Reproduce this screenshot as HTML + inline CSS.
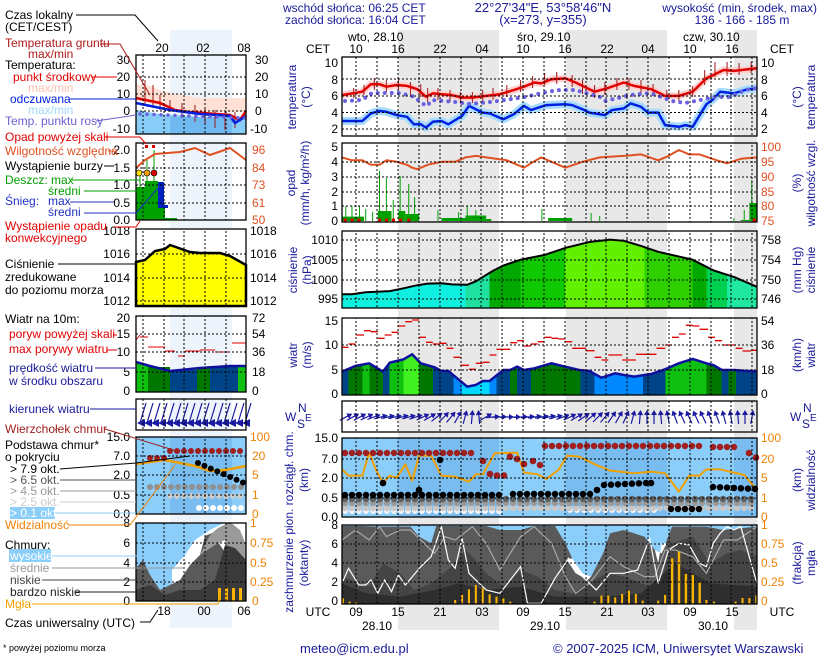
<!DOCTYPE html>
<html><head><meta charset="utf-8"><style>
html,body{margin:0;padding:0;background:#fff}
svg{display:block}
text{font-family:"Liberation Sans",Arial,sans-serif;font-size:12px}
.n{fill:#1a1a9a}
.k{fill:#000}
.o{fill:#f08000}
.rh{fill:#e05020}
.g{stroke:#000;stroke-width:1;stroke-dasharray:2 2;fill:none}
.b{fill:none;stroke:#000;stroke-width:1.3}
.ns{vector-effect:non-scaling-stroke}
</style></head><body>
<svg width="820" height="660" viewBox="0 0 820 660" xmlns="http://www.w3.org/2000/svg">
<defs>
<clipPath id="mainclip">
<rect x="342" y="57" width="415" height="79"/><rect x="342" y="143" width="415" height="79"/>
<rect x="342" y="231" width="415" height="77"/><rect x="342" y="318" width="415" height="77"/>
<rect x="342" y="401" width="415" height="31"/><rect x="342" y="438" width="415" height="79"/>
<rect x="342" y="525" width="415" height="79"/>
</clipPath>
<clipPath id="miniclip">
<rect x="136" y="55" width="110" height="79"/><rect x="136" y="143" width="110" height="77"/>
<rect x="136" y="229" width="110" height="77"/><rect x="136" y="316" width="110" height="76"/>
<rect x="136" y="399" width="110" height="31"/><rect x="136" y="437" width="110" height="77"/>
<rect x="136" y="523" width="110" height="78"/>
</clipPath>
<linearGradient id="pg" x1="0" x2="1" y1="0" y2="0">
<stop offset="0" stop-color="#10f0e0"/><stop offset=".298" stop-color="#10f0e0"/>
<stop offset=".298" stop-color="#20e0a0"/><stop offset=".356" stop-color="#20e0a0"/>
<stop offset=".356" stop-color="#00a800"/><stop offset=".43" stop-color="#00a800"/>
<stop offset=".43" stop-color="#10c800"/><stop offset=".538" stop-color="#10c800"/>
<stop offset=".538" stop-color="#60f000"/><stop offset=".729" stop-color="#60f000"/>
<stop offset=".729" stop-color="#30d000"/><stop offset=".845" stop-color="#30d000"/>
<stop offset=".845" stop-color="#00a800"/><stop offset=".878" stop-color="#00a800"/>
<stop offset=".878" stop-color="#00d050"/><stop offset=".928" stop-color="#00d050"/>
<stop offset=".928" stop-color="#20e8a0"/><stop offset="1" stop-color="#20e8a0"/>
</linearGradient>
<linearGradient id="wg" x1="0" x2="1" y1="0" y2="0">
<stop offset="0" stop-color="#004488"/><stop offset=".016" stop-color="#004488"/>
<stop offset=".016" stop-color="#007800"/><stop offset=".049" stop-color="#007800"/>
<stop offset=".049" stop-color="#10c010"/><stop offset=".066" stop-color="#10c010"/>
<stop offset=".066" stop-color="#007800"/><stop offset=".099" stop-color="#007800"/>
<stop offset=".099" stop-color="#004488"/><stop offset=".115" stop-color="#004488"/>
<stop offset=".115" stop-color="#10c010"/><stop offset=".148" stop-color="#10c010"/>
<stop offset=".148" stop-color="#40f020"/><stop offset=".186" stop-color="#40f020"/>
<stop offset=".186" stop-color="#007800"/><stop offset=".219" stop-color="#007800"/>
<stop offset=".219" stop-color="#004488"/><stop offset=".269" stop-color="#004488"/>
<stop offset=".269" stop-color="#0088ff"/><stop offset=".289" stop-color="#0088ff"/>
<stop offset=".289" stop-color="#00d8ff"/><stop offset=".356" stop-color="#00d8ff"/>
<stop offset=".356" stop-color="#0088ff"/><stop offset=".372" stop-color="#0088ff"/>
<stop offset=".372" stop-color="#004488"/><stop offset=".405" stop-color="#004488"/>
<stop offset=".405" stop-color="#007800"/><stop offset=".422" stop-color="#007800"/>
<stop offset=".422" stop-color="#004488"/><stop offset=".455" stop-color="#004488"/>
<stop offset=".455" stop-color="#007800"/><stop offset=".575" stop-color="#007800"/>
<stop offset=".575" stop-color="#004488"/><stop offset=".609" stop-color="#004488"/>
<stop offset=".609" stop-color="#0088ff"/><stop offset=".725" stop-color="#0088ff"/>
<stop offset=".725" stop-color="#004488"/><stop offset=".779" stop-color="#004488"/>
<stop offset=".779" stop-color="#10c010"/><stop offset=".878" stop-color="#10c010"/>
<stop offset=".878" stop-color="#007800"/><stop offset=".915" stop-color="#007800"/>
<stop offset=".915" stop-color="#004488"/><stop offset=".932" stop-color="#004488"/>
<stop offset=".932" stop-color="#007800"/><stop offset=".949" stop-color="#007800"/>
<stop offset=".949" stop-color="#004488"/><stop offset="1" stop-color="#004488"/>
</linearGradient>
<g id="ar"><path d="M-7 0H3" stroke="#1a1aa0" stroke-width="1.2"/><path d="M2-3L7 0 2 3Z" fill="#1a1aa0"/></g>
<g id="ar2"><path d="M4 -12L-2 8" stroke="#1a1aa0" stroke-width="1.2"/><path d="M3 4L-5 8 3 12Z" fill="#1a1aa0"/></g>
</defs>

<rect width="820" height="660" fill="#fff"/>
<g fill="#e8e8e8">
<rect x="398" y="30" width="101" height="600"/><rect x="566" y="30" width="101" height="600"/><rect x="734" y="30" width="23" height="600"/>
</g>
<rect x="170" y="30" width="62" height="598" fill="#eef4fc"/>

<!-- HEADER -->
<text x="283" y="12" class="n">wschód słońca: 06:25 CET</text>
<text x="285" y="24" class="n">zachód słońca: 16:04 CET</text>
<text x="543" y="12" class="n" text-anchor="middle" style="font-size:13px">22°27'34"E, 53°58'46"N</text>
<text x="543" y="24" class="n" text-anchor="middle" style="font-size:13px">(x=273,  y=355)</text>
<text x="817" y="12" class="n" text-anchor="end">wysokość (min, środek, max)</text>
<text x="742" y="24" class="n" text-anchor="middle">136 - 166 - 185 m</text>
<text x="348" y="41" class="k">wto, 28.10</text>
<text x="517" y="41" class="k">śro, 29.10</text>
<text x="683" y="41" class="k">czw, 30.10</text>
<g class="k" text-anchor="middle">
<text x="318" y="53">CET</text><text x="356" y="53">10</text><text x="398" y="53">16</text><text x="440" y="53">22</text><text x="482" y="53">04</text><text x="523" y="53">10</text><text x="565" y="53">16</text><text x="607" y="53">22</text><text x="648" y="53">04</text><text x="690" y="53">10</text><text x="732" y="53">16</text><text x="782" y="53">CET</text>
</g>

<!-- MAIN PANELS -->
<g fill="#fff">
<rect x="342" y="57" width="415" height="79"/><rect x="342" y="143" width="415" height="79"/>
<rect x="342" y="231" width="415" height="77"/><rect x="342" y="318" width="415" height="77"/>
<rect x="342" y="401" width="415" height="31"/>
</g>
<g fill="#e8e8e8">
<rect x="398" y="57" width="101" height="79"/><rect x="566" y="57" width="101" height="79"/><rect x="734" y="57" width="23" height="79"/>
<rect x="398" y="143" width="101" height="79"/><rect x="566" y="143" width="101" height="79"/><rect x="734" y="143" width="23" height="79"/>
<rect x="398" y="231" width="101" height="77"/><rect x="566" y="231" width="101" height="77"/><rect x="734" y="231" width="23" height="77"/>
<rect x="398" y="318" width="101" height="77"/><rect x="566" y="318" width="101" height="77"/><rect x="734" y="318" width="23" height="77"/>
<rect x="398" y="401" width="101" height="31"/><rect x="566" y="401" width="101" height="31"/><rect x="734" y="401" width="23" height="31"/>
</g>
<rect x="342" y="438" width="415" height="79" fill="#8ccefa"/>
<g fill="#78bcf0"><rect x="398" y="438" width="101" height="79"/><rect x="566" y="438" width="101" height="79"/><rect x="734" y="438" width="23" height="79"/></g>
<rect x="342" y="525" width="415" height="79" fill="#8ccefa"/>

<!-- TEMPERATURE -->
<g transform="translate(279.7,0) scale(0.3441,1)" fill="none" stroke-linejoin="round">
<polyline class="ns" stroke="#ffd0d0" stroke-width="7" points="181,95.1 240,91.7 265,84.2 290,84.2 310,86.7 340,85 370,85.9 400,89.2 425,96.7 445,93.4 500,95.1 530,97.6 560,97.6 600,95.9 640,94.2 680,90.1 710,86.7 740,82.5 760,83.4 790,79.2 830,78.4 860,82.5 880,85.9 915,91.7 950,88.4 1000,82.5 1030,85.9 1080,89.2 1120,95.9 1160,95.9 1200,91.7 1240,78.4 1290,70 1320,70.9 1387,68.3"/>
<polyline class="ns" stroke="#a8dcff" stroke-width="8" points="181,121 240,121 265,113.4 290,110.9 310,111.8 340,115.1 370,116.8 390,124.3 410,124.3 425,127.6 445,121.8 470,121 490,124.3 530,115.9 550,105.9 590,112.6 610,113.4 650,119.3 680,114.3 710,105.9 730,110.1 775,105.1 830,104.3 850,105.1 880,109.3 900,112.6 945,115.1 965,110.1 1000,108.4 1020,103.4 1050,106.8 1070,112.6 1100,112.6 1120,125.1 1160,126.8 1180,125.1 1200,126.8 1240,104.3 1260,99.2 1280,91.7 1320,93.4 1360,89.2 1387,88.4"/>
<path class="ns" stroke="#a01818" stroke-width="1" d="M215 88V98M245 85V95M275 78V90M310 80V92M345 78V90M380 82V95M410 84V97M430 88V102M460 88V100M495 90V102M525 92V103M560 92V103M590 90V101M620 88V100M660 85V97M700 80V92M735 76V88M770 73V85M805 72V84M850 75V87M880 80V94M915 85V98M945 82V95M980 78V90M1015 78V90M1050 80V93M1085 84V96M1125 90V101M1160 90V101M1200 86V97M1235 70V85M1265 62V77M1300 62V76M1335 63V75M1370 62V73"/>
<polyline class="ns" stroke="#e00000" stroke-width="2.5" points="181,95.1 240,91.7 265,84.2 290,84.2 310,86.7 340,85 370,85.9 400,89.2 425,96.7 445,93.4 500,95.1 530,97.6 560,97.6 600,95.9 640,94.2 680,90.1 710,86.7 740,82.5 760,83.4 790,79.2 830,78.4 860,82.5 880,85.9 915,91.7 950,88.4 1000,82.5 1030,85.9 1080,89.2 1120,95.9 1160,95.9 1200,91.7 1240,78.4 1290,70 1320,70.9 1387,68.3"/>
<polyline class="ns" stroke="#0020e0" stroke-width="2.5" points="181,121 240,121 265,113.4 290,110.9 310,111.8 340,115.1 370,116.8 390,124.3 410,124.3 425,127.6 445,121.8 470,121 490,124.3 530,115.9 550,105.9 590,112.6 610,113.4 650,119.3 680,114.3 710,105.9 730,110.1 775,105.1 830,104.3 850,105.1 880,109.3 900,112.6 945,115.1 965,110.1 1000,108.4 1020,103.4 1050,106.8 1070,112.6 1100,112.6 1120,125.1 1160,126.8 1180,125.1 1200,126.8 1240,104.3 1260,99.2 1280,91.7 1320,93.4 1360,89.2 1387,88.4"/>
</g>
<polyline fill="none" stroke="#6a60e0" stroke-width="4" stroke-linecap="round" stroke-dasharray="0 7" points="345,101 362,100 372,93 400,93 415,97 420,102 427,106 432,100 455,102 470,104 490,102 505,100 525,97 546,92 560,90 575,90 586,93 600,97 605,101 618,98 630,95 650,93 672,101 685,103 700,100 715,97 730,97 745,90 757,88"/>

<!-- PRECIP -->
<g transform="translate(279.7,0) scale(0.3441,1)">
<g fill="#00a000">
<rect x="181" y="216.6" width="64" height="4.4"/><rect x="285" y="211" width="40" height="10"/><rect x="345" y="211" width="20" height="10"/><rect x="365" y="214" width="40" height="7"/><rect x="470" y="218" width="70" height="3"/><rect x="540" y="215.5" width="60" height="5.5"/><rect x="600" y="219" width="15" height="2"/><rect x="780" y="218" width="70" height="3"/><rect x="1340" y="220" width="25" height="1"/><rect x="1365" y="203" width="22" height="18"/>
</g>
<path class="ns" stroke="#00a000" stroke-width="1" fill="none" d="M192 221V206M210 221V206M232 221V206M250 221V209M270 221V212M290 221V171M310 221V178M330 221V200M350 221V176M375 221V184M392 221V197M545 221V206M460 221V210M520 221V212M570 221V210M762 221V209M1372 221V180M1350 221V210M905 221V213M930 221V216M1320 221V218"/>
<g fill="#e00000"><rect x="186" y="218.5" width="9" height="3"/><rect x="206" y="218.5" width="9" height="3"/><rect x="226" y="218.5" width="9" height="3"/><rect x="286" y="218.5" width="9" height="3"/><rect x="306" y="218.5" width="9" height="3"/><rect x="326" y="218.5" width="9" height="3"/><rect x="346" y="218.5" width="9" height="3"/><rect x="371" y="218.5" width="9" height="3"/><rect x="1375" y="218.5" width="9" height="3"/></g>
<polyline class="ns" fill="none" stroke="#e05020" stroke-width="2" stroke-linejoin="round" points="181,157.4 210,160.3 240,160.3 265,164.8 290,164.8 310,160.3 340,161.8 370,164.8 385,167.7 400,169.2 430,164.8 470,161.8 510,161.8 540,157.4 570,155.9 600,157.4 660,160.3 710,167.7 730,163.3 760,157.4 790,161.8 830,167.7 880,161.8 930,157.4 1000,155.9 1050,154.4 1100,160.3 1130,155.9 1160,150 1190,154.4 1220,154.4 1270,160.3 1300,163.3 1340,158.8 1387,157.4"/>
</g>

<!-- PRESSURE -->
<g transform="translate(279.7,0) scale(0.3441,1)">
<polygon fill="url(#pg)" points="181,294.2 210,294.2 250,292.3 320,291.1 360,288.3 400,285.2 430,283.6 470,283.2 500,284.4 545,284.8 570,281.3 620,270.7 650,265.5 700,259.7 770,254.9 830,247.9 900,242 960,239.6 1000,240.8 1050,245.9 1100,251.8 1200,259.7 1260,270.3 1320,276.9 1387,286.8 1387,308 181,308"/>
<polyline class="ns" fill="none" stroke="#000" stroke-width="2" points="181,294.2 210,294.2 250,292.3 320,291.1 360,288.3 400,285.2 430,283.6 470,283.2 500,284.4 545,284.8 570,281.3 620,270.7 650,265.5 700,259.7 770,254.9 830,247.9 900,242 960,239.6 1000,240.8 1050,245.9 1100,251.8 1200,259.7 1260,270.3 1320,276.9 1387,286.8"/>
</g>

<!-- WIND -->
<g transform="translate(279.7,310) scale(0.3441,0.3333)">
<polygon fill="url(#wg)" points="181,185 220,168 260,160 300,185 320,158 360,148 385,133 410,160 450,172 470,183 490,183 545,230 570,225 590,213 610,213 650,180 670,180 690,170 710,180 740,175 790,160 830,170 870,180 900,183 935,203 975,190 1000,195 1030,200 1060,195 1080,192 1120,178 1160,160 1200,147 1240,160 1260,165 1285,180 1320,180 1387,185 1387,255 181,255"/>
<polyline class="ns" fill="none" stroke="#1010a0" stroke-width="2.5" points="181,185 220,168 260,160 300,185 320,158 360,148 385,133 410,160 450,172 470,183 490,183 545,230 570,225 590,213 610,213 650,180 670,180 690,170 710,180 740,175 790,160 830,170 870,180 900,183 935,203 975,190 1000,195 1030,200 1060,195 1080,192 1120,178 1160,160 1200,147 1240,160 1260,165 1285,180 1320,180 1387,185"/>
<path class="ns" stroke="#e00000" stroke-width="1.3" fill="none" d="M181 112H200M200 102H220M222 75H245M245 62H265M265 65H285M285 85H305M305 75H325M325 67H345M345 48H365M365 35H385M385 30H405M405 82H425M425 97H445M445 102H465M465 100H485M485 115H505M505 142H525M525 166H550M550 178H570M570 160H590M590 157H610M610 135H630M630 118H670M670 98H690M690 92H710M710 108H730M730 102H750M750 95H770M770 82H790M790 85H810M810 87H830M830 95H850M850 115H890M890 122H915M915 142H935M935 150H955M955 135H995M995 150H1035M1035 133H1095M1095 115H1120M1120 105H1140M1140 82H1160M1160 72H1180M1180 46H1200M1200 48H1220M1220 58H1245M1245 82H1265M1265 92H1285M1285 105H1325M1325 115H1345M1345 123H1370M1370 121H1387"/>
</g>

<!-- DIRECTION ARROWS -->
<g>
<use href="#ar" transform="translate(346,417) rotate(-28)"/><use href="#ar" transform="translate(353,417) rotate(-28)"/><use href="#ar" transform="translate(360,417) rotate(-28)"/><use href="#ar" transform="translate(367,417) rotate(-25)"/><use href="#ar" transform="translate(374,417) rotate(-20)"/><use href="#ar" transform="translate(381,417) rotate(-15)"/>
<use href="#ar" transform="translate(388,417) rotate(-12)"/><use href="#ar" transform="translate(395,417) rotate(-12)"/><use href="#ar" transform="translate(402,417) rotate(-15)"/><use href="#ar" transform="translate(409,417) rotate(-15)"/><use href="#ar" transform="translate(416,417) rotate(-18)"/>
<use href="#ar" transform="translate(423,417) rotate(-25)"/><use href="#ar" transform="translate(430,417) rotate(-30)"/><use href="#ar" transform="translate(437,417) rotate(-38)"/><use href="#ar" transform="translate(444,417) rotate(-45)"/><use href="#ar" transform="translate(451,417) rotate(-50)"/><use href="#ar" transform="translate(458,417) rotate(-60)"/><use href="#ar" transform="translate(465,417) rotate(-75)"/><use href="#ar" transform="translate(472,417) rotate(-85)"/><use href="#ar" transform="translate(479,417) rotate(-95)"/><use href="#ar" transform="translate(486,417) rotate(-30)"/>
<use href="#ar" transform="translate(493,417) rotate(-5)"/><use href="#ar" transform="translate(500,417) rotate(-3)"/><use href="#ar" transform="translate(507,417) rotate(0)"/><use href="#ar" transform="translate(514,417) rotate(0)"/><use href="#ar" transform="translate(521,417) rotate(-3)"/><use href="#ar" transform="translate(528,417) rotate(-5)"/><use href="#ar" transform="translate(535,417) rotate(-8)"/><use href="#ar" transform="translate(542,417) rotate(-10)"/><use href="#ar" transform="translate(549,417) rotate(-12)"/><use href="#ar" transform="translate(556,417) rotate(-15)"/>
<use href="#ar" transform="translate(563,417) rotate(-20)"/><use href="#ar" transform="translate(570,417) rotate(-25)"/><use href="#ar" transform="translate(577,417) rotate(-30)"/><use href="#ar" transform="translate(584,417) rotate(-35)"/><use href="#ar" transform="translate(591,417) rotate(-40)"/><use href="#ar" transform="translate(598,417) rotate(-45)"/><use href="#ar" transform="translate(605,417) rotate(-50)"/><use href="#ar" transform="translate(612,417) rotate(-55)"/><use href="#ar" transform="translate(619,417) rotate(-60)"/><use href="#ar" transform="translate(626,417) rotate(-65)"/>
<use href="#ar" transform="translate(633,417) rotate(-75)"/><use href="#ar" transform="translate(640,417) rotate(-85)"/><use href="#ar" transform="translate(647,417) rotate(-90)"/><use href="#ar" transform="translate(654,417) rotate(-90)"/><use href="#ar" transform="translate(661,417) rotate(-95)"/><use href="#ar" transform="translate(668,417) rotate(-100)"/>
<use href="#ar" transform="translate(675,417) rotate(-110)"/><use href="#ar" transform="translate(682,417) rotate(-115)"/><use href="#ar" transform="translate(689,417) rotate(-115)"/><use href="#ar" transform="translate(696,417) rotate(-115)"/><use href="#ar" transform="translate(703,417) rotate(-115)"/><use href="#ar" transform="translate(710,417) rotate(-110)"/><use href="#ar" transform="translate(717,417) rotate(-110)"/><use href="#ar" transform="translate(724,417) rotate(-105)"/><use href="#ar" transform="translate(731,417) rotate(-100)"/><use href="#ar" transform="translate(738,417) rotate(-95)"/><use href="#ar" transform="translate(745,417) rotate(-90)"/><use href="#ar" transform="translate(752,417) rotate(-80)"/>
</g>

<!-- CLOUD BASE panel -->
<g transform="translate(279.7,310) scale(0.3441,0.3333)">
<polyline class="ns" fill="none" stroke="#f0a000" stroke-width="2" stroke-linejoin="round" points="181,478 200,497 240,497 260,428 280,480 300,518 320,497 340,503 365,463 385,512 405,437 440,437 470,497 510,500 550,515 570,493 590,493 625,430 690,428 710,488 750,493 775,507 810,480 835,437 870,440 920,465 960,482 990,485 1030,490 1080,485 1120,490 1160,545 1190,497 1220,497 1240,478 1280,478 1320,488 1350,495 1387,540"/>
</g>
<g fill="none" stroke-linecap="round" stroke-dasharray="0 7">
<polyline stroke="#f4f4f4" stroke-width="6" points="345,511 500,511"/>
<polyline stroke="#f4f4f4" stroke-width="6" points="570,510 655,510"/>
<polyline stroke="#c8c8c8" stroke-width="6.5" points="345,508 757,508"/>
<polyline stroke="#9a9a9a" stroke-width="6.5" points="345,503 757,503"/>
<polyline stroke="#606060" stroke-width="6.5" points="345,499 757,499"/>
<polyline stroke="#000" stroke-width="6.5" points="345,495 506,495"/>
<polyline stroke="#000" stroke-width="6.5" points="513,494 597,494"/>
<polyline stroke="#000" stroke-width="6.5" points="604,485 646,483"/>
<polyline stroke="#000" stroke-width="6.5" points="671,509 706,509"/>
<polyline stroke="#000" stroke-width="6.5" points="713,487 757,489"/>
<polyline stroke="#a02020" stroke-width="6.5" points="345,453 472,453"/>
<polyline stroke="#a02020" stroke-width="6.5" points="545,446 706,446"/>
<polyline stroke="#a02020" stroke-width="6.5" points="713,447 741,447"/>
</g>
<g fill="#a02020"><circle cx="483" cy="461" r="3.3"/><circle cx="490" cy="474" r="3.3"/><circle cx="497" cy="475.5" r="3.3"/><circle cx="504" cy="475.5" r="3.3"/><circle cx="510" cy="456.7" r="3.3"/><circle cx="517" cy="459" r="3.3"/><circle cx="524" cy="464" r="3.3"/><circle cx="533" cy="461" r="3.3"/><circle cx="540" cy="465" r="3.3"/><circle cx="749" cy="453" r="3.3"/><circle cx="756" cy="457.5" r="3.3"/></g>
<g fill="#000"><circle cx="383" cy="483" r="3.3"/><circle cx="419" cy="490" r="3.3"/><circle cx="440" cy="460" r="3.3"/><circle cx="597" cy="490" r="3.3"/><circle cx="651" cy="483" r="3.3"/></g>

<!-- CLOUD COVER -->
<g transform="translate(279.7,310) scale(0.3441,0.3333)">
<polygon fill="#5a5a5a" points="181,648 240,648 290,650 380,650 405,680 440,700 455,648 600,648 640,660 700,660 740,648 800,648 830,700 850,745 880,790 905,800 940,730 960,670 1000,660 1060,680 1090,720 1110,730 1140,650 1240,650 1290,660 1387,650 1387,882 181,882"/>
<polygon fill="#fff" points="850,745 880,790 905,800 895,810 860,790 835,750"/>
<polygon fill="#fff" points="1090,720 1110,730 1125,700 1110,700 1100,760"/>
<polygon fill="#444" points="181,800 260,830 300,760 350,790 390,840 440,820 500,770 540,720 560,740 600,790 650,830 700,780 750,800 800,840 850,850 900,820 950,790 1000,800 1050,820 1100,840 1140,700 1200,680 1250,760 1300,730 1340,720 1387,740 1387,882 181,882"/>
<polygon fill="#2e2e2e" points="181,820 250,850 350,860 450,840 520,820 600,840 700,830 800,860 950,860 1050,850 1150,760 1250,820 1387,830 1387,882 181,882"/>
<polyline class="ns" fill="none" stroke="#a8a8a8" stroke-width="1.2" points="181,690 220,660 260,690 290,650 310,680 350,660 380,660 420,700 450,730 480,680 510,690 560,650 600,700 640,780 700,680 740,650 790,700 830,800 860,850 900,820 960,740 1000,770 1060,800 1090,800 1120,720 1150,720 1200,740 1240,790 1290,690 1330,690 1387,650"/>
<polyline class="ns" fill="none" stroke="#fff" stroke-width="1.2" points="181,820 200,775 230,825 250,825 265,810 285,850 305,810 325,845 345,795 365,825 410,770 440,740 470,650 490,750 510,775 530,685 550,790 580,820 600,840 640,850 700,770 720,880 760,880 800,805 840,745 880,800 920,840 960,790 1000,790 1040,780 1075,685 1100,820 1130,720 1160,700 1190,705 1220,760 1240,770 1260,700 1280,670 1300,650 1320,660 1340,650 1370,760 1387,820"/>
<g fill="#f8b400"><rect x="181" y="865" width="6" height="17"/><rect x="200" y="875" width="6" height="7"/><rect x="219" y="875" width="6" height="7"/><rect x="507" y="870" width="6" height="12"/><rect x="527" y="855" width="6" height="27"/><rect x="547" y="838" width="6" height="44"/><rect x="567" y="825" width="6" height="57"/><rect x="587" y="835" width="6" height="47"/><rect x="607" y="853" width="6" height="29"/><rect x="627" y="860" width="6" height="22"/><rect x="647" y="865" width="6" height="17"/><rect x="667" y="875" width="6" height="7"/><rect x="912" y="875" width="6" height="7"/><rect x="932" y="857" width="6" height="25"/><rect x="952" y="857" width="6" height="25"/><rect x="972" y="862" width="6" height="20"/><rect x="992" y="852" width="6" height="30"/><rect x="1012" y="842" width="6" height="40"/><rect x="1032" y="852" width="6" height="30"/><rect x="1052" y="872" width="6" height="10"/><rect x="1097" y="872" width="6" height="10"/><rect x="1117" y="855" width="6" height="27"/><rect x="1137" y="745" width="7" height="137"/><rect x="1157" y="725" width="7" height="157"/><rect x="1177" y="792" width="7" height="90"/><rect x="1197" y="795" width="7" height="87"/><rect x="1217" y="818" width="7" height="64"/><rect x="1237" y="870" width="6" height="12"/><rect x="1259" y="875" width="6" height="7"/><rect x="1322" y="875" width="6" height="7"/><rect x="1342" y="864" width="6" height="18"/><rect x="1362" y="864" width="6" height="18"/><rect x="1382" y="856" width="5" height="26"/></g>
</g>

<!-- main grid -->
<g clip-path="url(#mainclip)">
<path class="g" d="M356 57V604M377 57V604M398 57V604M419 57V604M440 57V604M461 57V604M481 57V604M502 57V604M523 57V604M544 57V604M565 57V604M586 57V604M606 57V604M627 57V604M648 57V604M669 57V604M690 57V604M711 57V604M731 57V604M752 57V604"/>
<path class="g" d="M342 79H757M342 96H757M342 112.5H757M342 129H757M342 162H757M342 177H757M342 192H757M342 206H757M342 240H757M342 260H757M342 280H757M342 299H757M342 345H757M342 370H757M342 459H757M342 478H757M342 498H757M342 544H757M342 563H757M342 582H757"/>
</g>
<g class="b">
<rect x="342" y="57" width="415" height="79"/><rect x="342" y="143" width="415" height="79"/>
<rect x="342" y="231" width="415" height="77"/><rect x="342" y="318" width="415" height="77"/>
<rect x="342" y="401" width="415" height="31"/><rect x="342" y="438" width="415" height="79"/>
<rect x="342" y="525" width="415" height="79"/>
</g>

<g class="k" text-anchor="end">
<text x="338" y="67">10</text><text x="338" y="84">8</text><text x="338" y="100">6</text><text x="338" y="117">4</text><text x="338" y="133">2</text>
<text x="338" y="151">5</text><text x="338" y="166">4</text><text x="338" y="181">3</text><text x="338" y="196">2</text><text x="338" y="210">1</text><text x="338" y="225">0</text>
<text x="338" y="244">1010</text><text x="338" y="264">1005</text><text x="338" y="284">1000</text><text x="338" y="303">995</text>
<text x="338" y="325">15</text><text x="338" y="349">10</text><text x="338" y="374">5</text><text x="338" y="398">0</text>
<text x="338" y="442">15.0</text><text x="338" y="463">7.0</text><text x="338" y="482">2.0</text><text x="338" y="502">0.5</text><text x="338" y="521">0.0</text>
<text x="338" y="529">8</text><text x="338" y="548">6</text><text x="338" y="567">4</text><text x="338" y="586">2</text><text x="338" y="605">0</text>
</g>
<g class="k">
<text x="761" y="67">10</text><text x="761" y="84">8</text><text x="761" y="100">6</text><text x="761" y="117">4</text><text x="761" y="133">2</text>
<text x="761" y="244">758</text><text x="761" y="264">754</text><text x="761" y="284">750</text><text x="761" y="303">746</text>
<text x="761" y="325">54</text><text x="761" y="349">36</text><text x="761" y="374">18</text><text x="761" y="398">0</text>
</g>
<g class="rh"><text x="761" y="151">100</text><text x="761" y="166">95</text><text x="761" y="181">90</text><text x="761" y="196">85</text><text x="761" y="210">80</text><text x="761" y="225">75</text></g>
<g class="o"><text x="761" y="442">100</text><text x="761" y="463">20</text><text x="761" y="482">5</text><text x="761" y="502">1</text><text x="761" y="521">0</text>
<text x="761" y="529">1</text><text x="761" y="548">0.75</text><text x="761" y="567">0.5</text><text x="761" y="586">0.25</text><text x="761" y="605">0</text></g>

<g class="n" text-anchor="middle">
<text transform="translate(296,97) rotate(-90)">temperatura</text><text transform="translate(310,97) rotate(-90)">(°C)</text>
<text transform="translate(295,183) rotate(-90)">opad</text><text transform="translate(309,183) rotate(-90)">(mm/h, kg/m²/h)</text>
<text transform="translate(297,270) rotate(-90)">ciśnienie</text><text transform="translate(311,270) rotate(-90)">(hPa)</text>
<text transform="translate(297,355) rotate(-90)">wiatr</text><text transform="translate(311,355) rotate(-90)">(m/s)</text>
<text transform="translate(293,522) rotate(-90)">zachmurzenie  pion. rozciągł. chm.</text>
<text transform="translate(308,480) rotate(-90)">(km)</text><text transform="translate(308,563) rotate(-90)">(oktanty)</text>
<text transform="translate(801,97) rotate(-90)">(°C)</text><text transform="translate(815,97) rotate(-90)">temperatura</text>
<text transform="translate(801,183) rotate(-90)">(%)</text><text transform="translate(815,183) rotate(-90)">wilgotność wzgl.</text>
<text transform="translate(801,270) rotate(-90)">(mm Hg)</text><text transform="translate(815,270) rotate(-90)">ciśnienie</text>
<text transform="translate(801,355) rotate(-90)">(km/h)</text><text transform="translate(815,355) rotate(-90)">wiatr</text>
<text transform="translate(801,480) rotate(-90)">(km)</text><text transform="translate(815,480) rotate(-90)">widzialność</text>
<text transform="translate(801,563) rotate(-90)">(frakcja)</text><text transform="translate(815,563) rotate(-90)">mgła</text>
</g>
<g class="n" style="font-size:11px">
<text x="285" y="421">W</text><text x="298" y="412">N</text><text x="297" y="428">S</text><text x="305" y="421" style="font-size:10px">E</text>
<text x="790" y="421">W</text><text x="803" y="412">N</text><text x="802" y="428">S</text><text x="810" y="421" style="font-size:10px">E</text>
</g>

<g class="k" text-anchor="middle">
<text x="318" y="616">UTC</text><text x="356" y="616">09</text><text x="398" y="616">15</text><text x="440" y="616">21</text><text x="482" y="616">03</text><text x="523" y="616">09</text><text x="565" y="616">15</text><text x="607" y="616">21</text><text x="648" y="616">03</text><text x="690" y="616">09</text><text x="732" y="616">15</text><text x="782" y="616">UTC</text>
<text x="377" y="630">28.10</text><text x="545" y="630">29.10</text><text x="713" y="630">30.10</text>
</g>
<text x="300" y="653" class="n" style="font-size:13px">meteo@icm.edu.pl</text>
<text x="553" y="653" class="n" style="font-size:13px">© 2007-2025 ICM, Uniwersytet Warszawski</text>

<!-- LEFT MINI LEGEND -->
<g fill="#fff">
<rect x="136" y="55" width="110" height="79"/><rect x="136" y="143" width="110" height="77"/>
<rect x="136" y="316" width="110" height="76"/><rect x="136" y="399" width="110" height="31"/>
</g>
<g fill="#eef4fc"><rect x="170" y="55" width="62" height="79"/><rect x="170" y="143" width="62" height="77"/><rect x="170" y="316" width="62" height="76"/><rect x="170" y="399" width="62" height="31"/></g>
<rect x="136" y="229" width="110" height="77" fill="#fff"/>
<polygon fill="#ffff00" stroke="#000" stroke-width="2.5" points="136,262 145,260 155,251 165,249 170,245 190,252 200,253 220,253 230,256 246,265 246,306 136,306"/>
<polygon fill="#ffe0d4" points="136,84 150,86 165,92 200,98 246,98 246,112 200,112 160,106 136,100"/>
<polygon fill="#88ccf8" points="136,110 160,114 200,117 246,117 246,134 136,134"/>
<polygon fill="#70b8f0" points="170,117 200,117 232,117 232,134 170,134"/>
<path stroke="#a01818" fill="none" d="M145 80V105M153 85V108M160 95V110M170 100V112M182 103V118M195 105V122M205 108V125M215 110V128M225 112V130M235 112V128"/>
<polyline fill="none" stroke="#e00000" stroke-width="2.5" points="136,98 160,103 175,110 190,112 230,115 240,120 246,111"/>
<polyline fill="none" stroke="#0020e0" stroke-width="2.5" points="136,103 170,110 200,114 230,116 235,123 246,116"/>
<polyline fill="none" stroke="#6a60e0" stroke-width="3.5" stroke-linecap="round" stroke-dasharray="0 7" points="140,114 246,118"/>
<g fill="#00a000"><rect x="136" y="187" width="9" height="33"/><rect x="145" y="181" width="13" height="39"/><rect x="158" y="208" width="7" height="12"/><rect x="165" y="218" width="12" height="2"/></g>
<rect x="158" y="182" width="6" height="26" fill="#0020c0"/><rect x="164" y="205" width="4" height="3" fill="#0020c0"/>
<path stroke="#00a000" fill="none" d="M140 187V175M147 181V160M154 181V150"/>
<circle cx="139" cy="173" r="3" fill="#ffe000" stroke="#000" stroke-width=".6"/><circle cx="147" cy="173" r="3" fill="#f0a000" stroke="#000" stroke-width=".6"/><circle cx="154" cy="173" r="3" fill="#e00000" stroke="#000" stroke-width=".6"/>
<rect x="145" y="145" width="3" height="3" fill="#e00000"/><rect x="152" y="145" width="3" height="3" fill="#e00000"/>
<polyline fill="none" stroke="#e05020" stroke-width="2" points="136,168 145,160 155,154 180,152 195,148 210,155 230,148 246,160"/>
<polygon fill="#10c010" points="136,362 150,366 170,371 200,368 230,366 246,366 246,392 136,392"/>
<rect x="148" y="367" width="22" height="25" fill="#007800"/><rect x="170" y="370" width="27" height="22" fill="#004488"/><rect x="197" y="368" width="13" height="24" fill="#007800"/><rect x="210" y="367" width="28" height="25" fill="#004488"/>
<polyline fill="none" stroke="#1010a0" stroke-width="2.5" points="136,362 150,366 170,371 200,368 230,366 246,366"/>
<path stroke="#e00000" fill="none" d="M136 340L140 335M140 337H148M148 347H165M165 351H175M178 356H185M185 351H200M200 350H215M215 352H230M232 343H246"/>
<g>
<use href="#ar2" transform="translate(142,415)"/><use href="#ar2" transform="translate(149,415)"/><use href="#ar2" transform="translate(156,415)"/><use href="#ar2" transform="translate(163,415)"/><use href="#ar2" transform="translate(170,415)"/><use href="#ar2" transform="translate(177,415)"/><use href="#ar2" transform="translate(184,415)"/><use href="#ar2" transform="translate(191,415)"/><use href="#ar2" transform="translate(198,415)"/><use href="#ar2" transform="translate(205,415)"/><use href="#ar2" transform="translate(212,415)"/><use href="#ar2" transform="translate(219,415)"/><use href="#ar2" transform="translate(226,415)"/><use href="#ar2" transform="translate(233,415)"/><use href="#ar2" transform="translate(240,415)"/><use href="#ar2" transform="translate(247,415)"/>
</g>
<rect x="136" y="437" width="110" height="77" fill="#8ccefa"/><rect x="170" y="437" width="62" height="77" fill="#78bcf0"/>
<polyline fill="none" stroke="#f0a000" stroke-width="2.5" points="136,464 150,462 165,460 180,463 195,466 210,471 225,470 246,466"/>
<g fill="none" stroke-linecap="round" stroke-dasharray="0 7">
<polyline stroke="#a02020" stroke-width="6" points="170,451 246,451"/>
<polyline stroke="#a02020" stroke-width="6" points="150,458 168,458"/>
<polyline stroke="#909090" stroke-width="6" points="150,487 246,487"/>
<polyline stroke="#cccccc" stroke-width="6" points="170,496 246,496"/>
<polyline stroke="#fff" stroke-width="6" points="199,508 246,508"/>
<polyline stroke="#000" stroke-width="6" points="198,463 244,483"/>
</g>
<rect x="136" y="523" width="110" height="78" fill="#8ccefa"/>
<polygon fill="#fff" points="172,570 185,555 195,540 210,530 230,520 246,520 246,601 172,601"/>
<polygon fill="#5a5a5a" points="136,568 143,560 150,575 160,590 170,585 180,580 190,565 200,555 205,536 212,533 220,545 230,560 240,580 246,585 246,601 136,601"/>
<polygon fill="#9a9a9a" points="200,555 210,535 218,528 230,522 240,530 246,545 246,575 235,570 225,540 215,545"/>
<polygon fill="#3a3a3a" points="136,590 150,585 165,595 180,590 200,590 215,580 225,545 235,548 246,560 246,601 136,601"/>
<g fill="#f8b400"><rect x="218" y="588" width="3" height="13"/><rect x="225" y="588" width="3" height="13"/><rect x="232" y="588" width="3" height="13"/><rect x="239" y="588" width="3" height="13"/></g>
<g clip-path="url(#miniclip)">
<path class="g" d="M143 55V601M164 55V601M184 55V601M205 55V601M226 55V601"/>
<path class="g" d="M136 77H246M136 94H246M136 111H246M136 168H246M136 185H246M136 203H246M136 254H246M136 278H246M136 301H246M136 334H246M136 352H246M136 372H246M136 456H246M136 475H246M136 495H246M136 543H246M136 563H246M136 582H246"/>
</g>
<g class="b">
<rect x="136" y="55" width="110" height="79"/><rect x="136" y="143" width="110" height="77"/>
<rect x="136" y="229" width="110" height="77"/><rect x="136" y="316" width="110" height="76"/>
<rect x="136" y="399" width="110" height="31"/><rect x="136" y="437" width="110" height="77"/>
<rect x="136" y="523" width="110" height="78"/>
</g>
<g class="k" text-anchor="middle"><text x="162" y="52">20</text><text x="203" y="52">02</text><text x="244" y="52">08</text>
<text x="164" y="615">18</text><text x="204" y="615">00</text><text x="244" y="615">06</text></g>
<g class="k" text-anchor="end">
<text x="130" y="64">30</text><text x="130" y="81">20</text><text x="130" y="98">10</text><text x="130" y="115">0</text><text x="130" y="133">-10</text>
<text x="130" y="154">2.0</text><text x="130" y="172">1.5</text><text x="130" y="189">1.0</text><text x="130" y="207">0.5</text><text x="130" y="224">0.0</text>
<text x="130" y="235">1018</text><text x="130" y="258">1016</text><text x="130" y="282">1014</text><text x="130" y="305">1012</text>
<text x="130" y="322">20</text><text x="130" y="338">15</text><text x="130" y="356">10</text><text x="130" y="376">5</text><text x="130" y="395">0</text>
<text x="130" y="441">15.0</text><text x="130" y="460">7.0</text><text x="130" y="479">2.0</text><text x="130" y="499">0.5</text><text x="130" y="518">0.0</text>
<text x="130" y="527">8</text><text x="130" y="547">6</text><text x="130" y="567">4</text><text x="130" y="586">2</text><text x="130" y="605">0</text>
</g>
<g class="k">
<text x="255" y="64">30</text><text x="255" y="81">20</text><text x="255" y="98">10</text><text x="255" y="115">0</text><text x="250" y="133">-10</text>
<text x="250" y="235">1018</text><text x="250" y="258">1016</text><text x="250" y="282">1014</text><text x="250" y="305">1012</text>
<text x="252" y="322">72</text><text x="252" y="338">54</text><text x="252" y="356">36</text><text x="252" y="376">18</text><text x="252" y="395">0</text>
</g>
<g class="rh"><text x="252" y="154">96</text><text x="252" y="172">84</text><text x="252" y="189">73</text><text x="252" y="207">61</text><text x="252" y="224">50</text></g>
<g class="o"><text x="250" y="441">100</text><text x="252" y="460">20</text><text x="252" y="479">5</text><text x="252" y="499">1</text><text x="252" y="518">0</text>
<text x="250" y="527">1</text><text x="250" y="547">0.75</text><text x="250" y="567">0.5</text><text x="250" y="586">0.25</text><text x="252" y="605">0</text></g>

<text x="5" y="19" class="k">Czas lokalny</text><text x="5" y="31" class="k">(CET/CEST)</text>
<text x="5" y="47" fill="#b01818">Temperatura gruntu</text><text x="28" y="58" fill="#b01818">max/min</text>
<text x="5" y="69" class="k">Temperatura:</text>
<text x="13" y="81" fill="#e00000">punkt środkowy</text>
<text x="28" y="92" fill="#ffc0b0">max/min</text>
<text x="10" y="103" fill="#0020e0">odczuwana</text>
<text x="28" y="114" fill="#a0d8ff">max/min</text>
<text x="5" y="125" fill="#6a60d0">Temp. punktu rosy</text>
<text x="5" y="141" fill="#e00000">Opad powyżej skali</text>
<text x="5" y="155" fill="#e05020">Wilgotność względna</text>
<text x="5" y="170" class="k">Wystąpienie burzy</text>
<text x="5" y="184" fill="#00a000">Deszcz: max</text><text x="48" y="195" fill="#00a000">średni</text>
<text x="5" y="205" fill="#2030c0">Śnieg:</text><text x="48" y="205" fill="#2030c0">max</text><text x="48" y="216" fill="#2030c0">średni</text>
<text x="5" y="230" fill="#e00000">Wystąpienie opadu</text><text x="5" y="242" fill="#e00000">konwekcyjnego</text>
<text x="5" y="268" class="k">Ciśnienie</text><text x="5" y="281" class="k">zredukowane</text><text x="5" y="294" class="k">do poziomu morza</text>
<text x="5" y="323" class="k">Wiatr na 10m:</text>
<text x="9" y="338" fill="#e00000">poryw powyżej skali</text>
<text x="9" y="353" fill="#e00000">max porywy wiatru</text>
<text x="9" y="372" fill="#1a1a9a">prędkość wiatru</text><text x="9" y="385" fill="#1a1a9a">w środku obszaru</text>
<text x="9" y="413" fill="#1a1a9a">kierunek wiatru</text>
<text x="5" y="433" fill="#a02020">Wierzchołek chmur</text>
<text x="5" y="449" class="k">Podstawa chmur*</text><text x="5" y="461" class="k">o pokryciu</text>
<text x="10" y="473" class="k">&gt; 7.9 okt.</text>
<text x="10" y="484" fill="#555">&gt; 6.5 okt.</text>
<text x="10" y="495" fill="#999">&gt; 4.5 okt.</text>
<text x="10" y="506" fill="#ccc">&gt; 2.5 okt.</text>
<rect x="10" y="507" width="45" height="12" fill="#8ccefa"/><text x="10" y="517" fill="#fff">&gt; 0.1 okt.</text>
<text x="5" y="529" fill="#f08000">Widzialność</text>
<text x="5" y="549" class="k">Chmury:</text>
<rect x="9" y="549" width="42" height="13" fill="#8ccefa"/><text x="10" y="560" fill="#fff">wysokie</text>
<text x="10" y="572" fill="#999">średnie</text>
<text x="10" y="584" fill="#444">niskie</text>
<text x="10" y="596" fill="#222">bardzo niskie</text>
<text x="5" y="608" fill="#f0a000">Mgła</text>
<text x="5" y="627" class="k">Czas uniwersalny (UTC)</text>
<text x="3" y="651" class="k" style="font-size:9px">* powyżej poziomu morza</text>

<g fill="none" stroke-width="1">
<polyline stroke="#000" points="76,15 135,15 158,41"/>
<polyline stroke="#b01818" points="100,44 120,44 150,95"/>
<polyline stroke="#e00000" points="92,77 117,77"/>
<polyline stroke="#0020e0" points="70,99 136,99"/>
<polyline stroke="#6a60d0" points="96,121 136,115"/>
<polyline stroke="#e00000" points="105,137 140,137 146,144"/>
<polyline stroke="#e05020" points="108,151 114,151"/>
<polyline stroke="#000" points="104,166 114,166"/>
<polyline stroke="#00a000" points="72,180 140,180"/>
<polyline stroke="#00a000" points="84,191 145,191"/>
<polyline stroke="#2030c0" points="70,202 114,202"/>
<polyline stroke="#2030c0" points="84,213 136,213 160,186"/>
<polyline stroke="#e00000" points="114,227 136,227 140,221"/>
<polyline stroke="#000" points="58,264 136,264"/>
<polyline stroke="#e00000" points="113,335 117,335"/>
<polyline stroke="#e00000" points="107,350 117,350"/>
<polyline stroke="#1a1a9a" points="95,368 136,368"/>
<polyline stroke="#1a1a9a" points="90,409 136,409"/>
<polyline stroke="#a02020" points="105,429 180,452"/>
<polyline stroke="#000" points="60,469 136,463 190,456"/>
<polyline stroke="#555" points="60,480 136,480"/>
<polyline stroke="#999" points="60,491 136,491"/>
<polyline stroke="#ccc" points="60,502 136,502"/>
<polyline stroke="#8ccefa" points="55,513 136,513"/>
<polyline stroke="#f08000" points="68,525 130,525 175,465"/>
<polyline stroke="#8ccefa" points="52,556 185,556"/>
<polyline stroke="#999" points="52,568 185,568"/>
<polyline stroke="#444" points="42,580 136,580"/>
<polyline stroke="#222" points="75,592 136,592"/>
<polyline stroke="#f0a000" points="32,604 218,604 220,595"/>
<polyline stroke="#000" points="140,622 150,622 158,610"/>
</g>
</svg>
</body></html>
